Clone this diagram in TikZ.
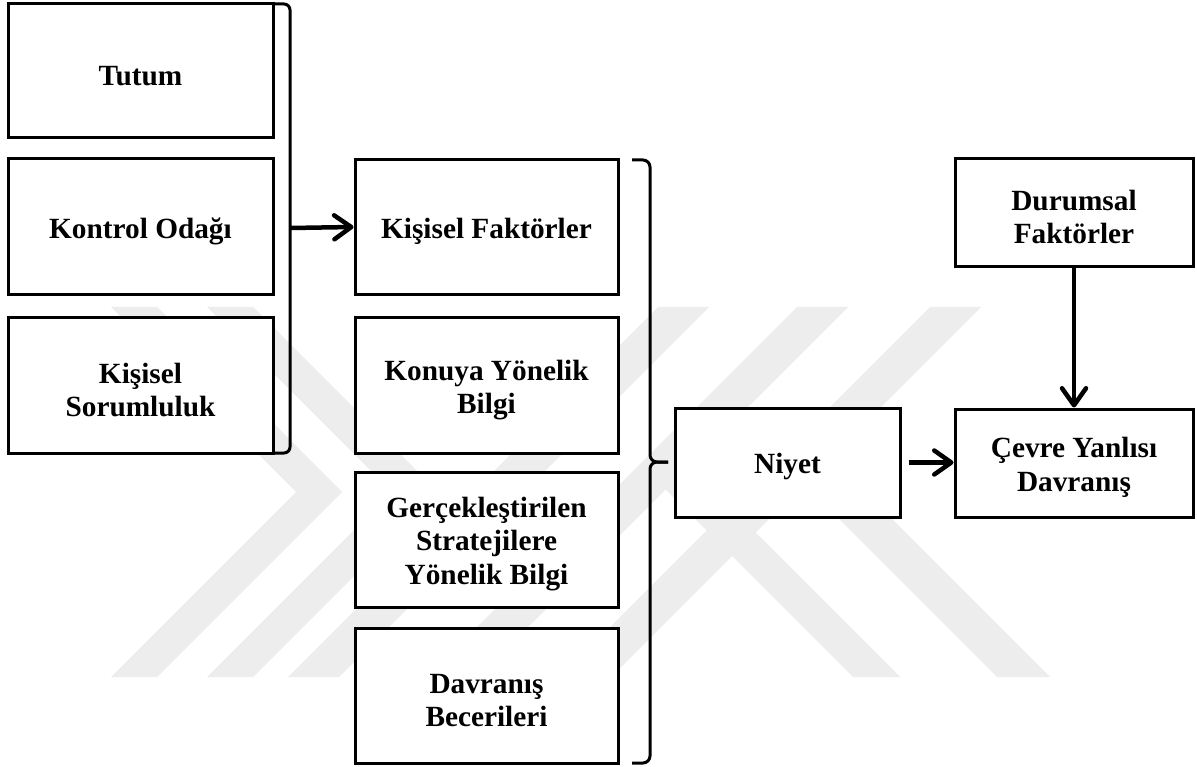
\documentclass[tikz,border=0pt]{standalone}
\usepackage{fontspec}
\setmainfont{Liberation Serif}
\usetikzlibrary{arrows.meta}
% tall strut that lowers the text block slightly inside its box
\newcommand{\topstrut}{\rule{0pt}{29pt}}
\begin{document}
\begin{tikzpicture}[x=1pt,y=-1pt,
  box/.style={draw=black, line width=3pt, fill=white, rectangle, align=center,
    inner sep=0pt, font=\fontsize{29.3}{33.5}\selectfont\bfseries},
  leftbox/.style={box, minimum width=265pt},
  midbox/.style={box, minimum width=263pt, minimum height=135pt},
  rightbox/.style={box, minimum width=238pt, minimum height=108pt},
  wmark/.style={fill=black!7, draw=none},
  bracket/.style={draw=black, line width=3pt, line join=round},
  link/.style={draw=black, line width=4.5pt,
    -{Straight Barb[round,length=17pt,width=24pt]}}]

\useasboundingbox (0,0) rectangle (1197,767);
\fill[white] (0,0) rectangle (1197,767);

% faint logo in the background
\foreach \a in {111,207}{
  \fill[wmark] (\a,307) -- (\a+46,307) -- (\a+231,492) -- (\a+46,677)
               -- (\a,677) -- (\a+185,492) -- cycle;
}
\foreach \t in {658,797,930}{
  \fill[wmark] (\t,307) -- (\t+51,307) -- (\t-319,677) -- (\t-370,677) -- cycle;
}
\fill[wmark] (853,677) -- (900,677) -- (689,466) -- (640,464) -- cycle;
\fill[wmark] (997,677) -- (1050,677) -- (830,457) -- (779,459) -- cycle;

% left column
\node[leftbox, minimum height=134pt] (tutum) at (140.5,71) {\topstrut Tutum};
\node[leftbox, minimum height=136pt] (kontrol) at (140.5,227) {\topstrut Kontrol Odağı};
\node[leftbox, minimum height=135pt] (sorum) at (140.5,385.5) {\topstrut Kişisel\\Sorumluluk};

% middle column
\node[midbox] (kisisel) at (486.5,227) {\topstrut Kişisel Faktörler};
\node[midbox] (konu) at (486.5,385.5) {\topstrut Konuya Yönelik\\Bilgi};
\node[midbox] (strat) at (486.5,539.5) {\topstrut Gerçekleştirilen\\Stratejilere\\Yönelik Bilgi};
\node[midbox] (beceri) at (486.5,695.5) {\topstrut Davranış\\Becerileri};

% right side
\node[box, minimum width=225pt, minimum height=109pt] (niyet) at (787.5,462.5) {\topstrut Niyet};
\node[rightbox] (durum) at (1074,212.5) {\topstrut Durumsal\\Faktörler};
\node[rightbox] (cevre) at (1074,463) {\topstrut Çevre Yanlısı\\Davranış};

% brackets
\coordinate (lb) at (290,228);
\coordinate (rb) at (668,462);
\draw[bracket] (273,4) -- (284,4) to[out=0,in=90] (290,10) -- (290,447)
  to[out=-90,in=0] (284,453) -- (273,453);
\draw[bracket] (632,160) -- (643,160) to[out=0,in=90] (650,167) -- (650,455)
  to[out=-90,in=180] (657,462) -- (rb);
\draw[bracket] (rb) -- (657,462) to[out=180,in=90] (650,469) -- (650,756)
  to[out=-90,in=0] (643,763) -- (632,763);

% connectors
\draw[link] (lb) -- (kisisel.west);
\draw[link, shorten <=7pt] (niyet.east) -- (niyet.east -| cevre.west);
\draw[link] (durum.south) -- (cevre.north);
\end{tikzpicture}
\end{document}
